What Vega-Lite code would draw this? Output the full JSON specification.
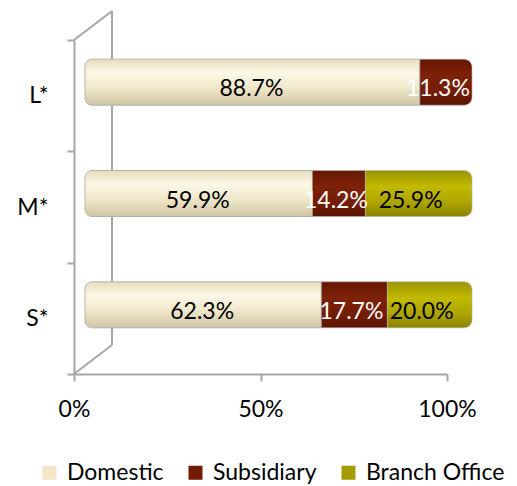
{
  "$schema": "https://vega.github.io/schema/vega-lite/v6.json",
  "width": 373,
  "height": 334,
  "autosize": "none",
  "padding": {"left": 74, "top": 40, "right": 70, "bottom": 112},
  "config": {"view": {"stroke": null}, "font": "Lato", "background": "white"},
  "data": {"values": [
    {"size": "L*", "series": "Domestic", "order": 1, "pct": 0.887},
    {"size": "L*", "series": "Subsidiary", "order": 2, "pct": 0.113},
    {"size": "L*", "series": "Branch Office", "order": 3, "pct": 0.0},
    {"size": "M*", "series": "Domestic", "order": 1, "pct": 0.599},
    {"size": "M*", "series": "Subsidiary", "order": 2, "pct": 0.142},
    {"size": "M*", "series": "Branch Office", "order": 3, "pct": 0.259},
    {"size": "S*", "series": "Domestic", "order": 1, "pct": 0.623},
    {"size": "S*", "series": "Subsidiary", "order": 2, "pct": 0.177},
    {"size": "S*", "series": "Branch Office", "order": 3, "pct": 0.200}
  ]},
  "encoding": {
    "y": {
      "field": "size", "type": "nominal", "sort": ["L*", "M*", "S*"],
      "scale": {"paddingInner": 0, "paddingOuter": 0},
      "axis": {
        "title": null, "tickBand": "extent", "tickSize": 7, "tickColor": "#A6A6A6", "tickWidth": 2,
        "domainColor": "#A6A6A6", "domainWidth": 2, "labelFontSize": 23, "labelColor": "#000000",
        "labelPadding": 19, "labelFont": "Lato"
      }
    }
  },
  "layer": [
    {
      "data": {"values": [{}]},
      "mark": {"type": "rule", "color": "#A6A6A6", "strokeWidth": 2, "xOffset": 38, "yOffset": -84.67, "y2Offset": 26.67},
      "encoding": {"x": {"datum": 0}, "y": {"datum": "L*"}, "y2": {"datum": "S*"}}
    },
    {
      "data": {"values": [{}]},
      "mark": {"type": "rule", "color": "#A6A6A6", "strokeWidth": 2, "yOffset": -55.67, "x2Offset": 38, "y2Offset": -84.67},
      "encoding": {"x": {"datum": 0}, "x2": {"datum": 0}, "y": {"datum": "L*"}, "y2": {"datum": "L*"}}
    },
    {
      "data": {"values": [{}]},
      "mark": {"type": "rule", "color": "#A6A6A6", "strokeWidth": 2, "yOffset": 55.67, "x2Offset": 38, "y2Offset": 26.67},
      "encoding": {"x": {"datum": 0}, "x2": {"datum": 0}, "y": {"datum": "S*"}, "y2": {"datum": "S*"}}
    },
    {
      "mark": {"type": "bar", "height": 46, "xOffset": 15, "yOffset": -13.5, "opacity": 0},
      "encoding": {
        "x": {
          "field": "pct", "type": "quantitative", "stack": "zero",
          "scale": {"domain": [0, 1], "nice": false},
          "axis": {
            "title": null, "values": [0, 0.5, 1], "format": ".0%", "grid": false,
            "tickSize": 7, "tickColor": "#A6A6A6", "tickWidth": 2, "domainColor": "#A6A6A6", "domainWidth": 2,
            "labelFontSize": 23, "labelColor": "#000000", "labelPadding": 17, "labelFont": "Lato",
            "labelFlush": false
          }
        },
        "order": {"field": "order"},
        "color": {
          "field": "series", "type": "nominal",
          "scale": {"domain": ["Domestic", "Subsidiary", "Branch Office"], "range": ["#F2E6C6", "#701B02", "#A39C00"]},
          "legend": {
            "title": null, "orient": "none", "direction": "horizontal", "legendX": -36, "legendY": 421,
            "symbolType": "square", "symbolSize": 196, "symbolStrokeWidth": 0, "symbolOpacity": 1,
            "labelFontSize": 23, "labelColor": "#000000", "labelOffset": 6, "columnPadding": 20, "labelFont": "Lato"
          }
        }
      }
    },
    {
      "transform": [
        {"stack": "pct", "groupby": ["size"], "sort": [{"field": "order"}], "as": ["x0", "x1"]},
        {"filter": "datum.pct > 0 && datum.series === 'Domestic'"}
      ],
      "mark": {"type": "bar", "height": 46, "xOffset": 11, "x2Offset": 15, "yOffset": -13.5, "stroke": "#B3B3B3", "strokeWidth": 1,
        "cornerRadiusTopLeft": 7, "cornerRadiusBottomLeft": 7,
        "fill": {"gradient": "linear", "x1": 0, "y1": 0, "x2": 0, "y2": 1, "stops": [
          {"offset": 0, "color": "#E6DDBC"}, {"offset": 0.3, "color": "#FBF8E6"}, {"offset": 0.6, "color": "#F1E9CC"}, {"offset": 1, "color": "#CFC6A4"}]}},
      "encoding": {
        "x": {"field": "x0", "type": "quantitative"},
        "x2": {"field": "x1"}
      }
    },
    {
      "transform": [
        {"stack": "pct", "groupby": ["size"], "sort": [{"field": "order"}], "as": ["x0", "x1"]},
        {"filter": "datum.pct > 0 && datum.series !== 'Domestic' && datum.x1 < 0.999"}
      ],
      "mark": {"type": "bar", "height": 46, "xOffset": 15, "x2Offset": 15, "yOffset": -13.5, "stroke": "#B3B3B3", "strokeWidth": 0.6},
      "encoding": {
        "x": {"field": "x0", "type": "quantitative"},
        "x2": {"field": "x1"},
        "fill": {
          "condition": [
            {"test": "datum.series === 'Subsidiary'", "value": {"gradient": "linear", "x1": 0, "y1": 0, "x2": 0, "y2": 1, "stops": [
              {"offset": 0, "color": "#661700"}, {"offset": 0.35, "color": "#7E2208"}, {"offset": 0.7, "color": "#741D04"}, {"offset": 1, "color": "#5A1400"}]}}
          ],
          "value": {"gradient": "linear", "x1": 0, "y1": 0, "x2": 0, "y2": 1, "stops": [
            {"offset": 0, "color": "#9C9400"}, {"offset": 0.35, "color": "#C2BA00"}, {"offset": 0.7, "color": "#ACA400"}, {"offset": 1, "color": "#8A8300"}]}
        }
      }
    },
    {
      "transform": [
        {"stack": "pct", "groupby": ["size"], "sort": [{"field": "order"}], "as": ["x0", "x1"]},
        {"filter": "datum.pct > 0 && datum.series !== 'Domestic' && datum.x1 >= 0.999"}
      ],
      "mark": {"type": "bar", "height": 46, "xOffset": 15, "x2Offset": 25, "yOffset": -13.5, "stroke": "#B3B3B3", "strokeWidth": 0.6,
        "cornerRadiusTopRight": 8, "cornerRadiusBottomRight": 8},
      "encoding": {
        "x": {"field": "x0", "type": "quantitative"},
        "x2": {"field": "x1"},
        "fill": {
          "condition": [
            {"test": "datum.series === 'Subsidiary'", "value": {"gradient": "linear", "x1": 0, "y1": 0, "x2": 0, "y2": 1, "stops": [
              {"offset": 0, "color": "#661700"}, {"offset": 0.35, "color": "#7E2208"}, {"offset": 0.7, "color": "#741D04"}, {"offset": 1, "color": "#5A1400"}]}}
          ],
          "value": {"gradient": "linear", "x1": 0, "y1": 0, "x2": 0, "y2": 1, "stops": [
            {"offset": 0, "color": "#9C9400"}, {"offset": 0.35, "color": "#C2BA00"}, {"offset": 0.7, "color": "#ACA400"}, {"offset": 1, "color": "#8A8300"}]}
        }
      }
    },
    {
      "transform": [{"filter": "datum.pct > 0"}],
      "mark": {"type": "text", "fontSize": 23, "xOffset": 12, "yOffset": -6.5, "baseline": "middle", "align": "center"},
      "encoding": {
        "x": {"field": "pct", "type": "quantitative", "stack": "zero", "bandPosition": 0.5},
        "order": {"field": "order"},
        "text": {"field": "pct", "type": "quantitative", "format": ".1%"},
        "color": {
          "condition": {"test": "datum.series === 'Subsidiary'", "value": "#FFFFFF"},
          "value": "#000000"
        }
      }
    }
  ]
}
